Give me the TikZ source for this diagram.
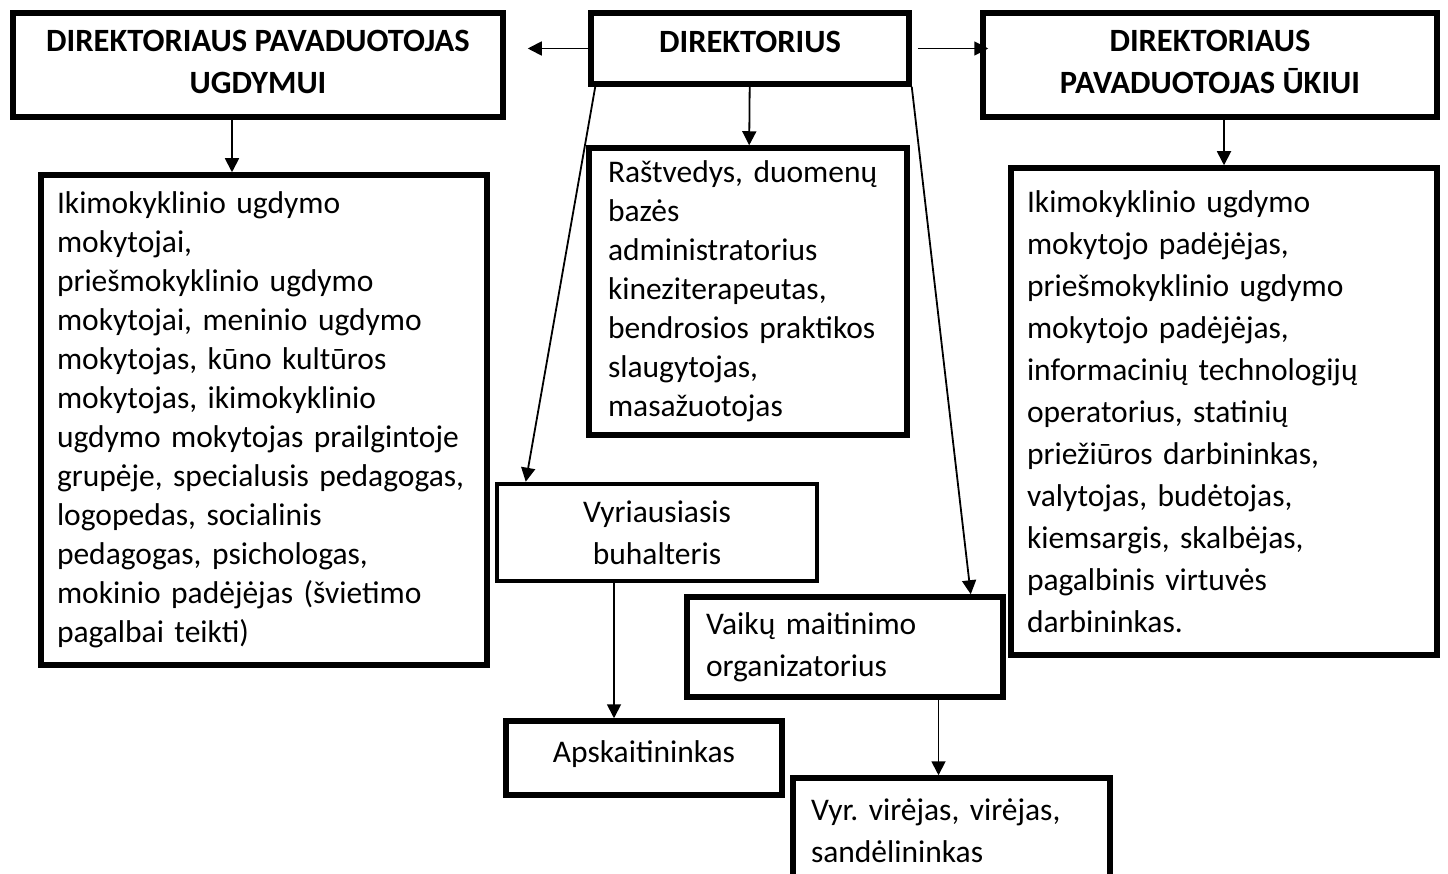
\documentclass[tikz,border=0pt]{standalone}
\usepackage{fontspec}
\setmainfont{Carlito}
\usetikzlibrary{arrows.meta}

\begin{document}
\begin{tikzpicture}[x=1pt,y=-1pt,
    box/.style={draw, line width=5.5pt, fill=white, font=\fontsize{31.5}{42}\selectfont\frenchspacing},
    head/.style={box, font=\fontsize{32.5}{42}\selectfont\bfseries, align=center},
    list/.style={box, align=left, inner xsep=16pt},
    tight/.style={font=\fontsize{31.5}{39}\selectfont},
    lnk/.style={-{Triangle[length=14pt,width=14pt]}, line width=1.8pt}]
  \useasboundingbox (0,0) rectangle (1448,874);

  % top row
  \node[head, minimum width=490pt, minimum height=104pt, text depth=6pt] (ugd) at (258,65)
    {DIREKTORIAUS PAVADUOTOJAS\\ UGDYMUI};
  \node[head, minimum width=318pt, minimum height=71pt, text depth=14pt] (dir) at (750,48.5)
    {DIREKTORIUS};
  \node[head, minimum width=454pt, minimum height=104pt, text depth=6pt] (uk) at (1210,65)
    {DIREKTORIAUS\\ PAVADUOTOJAS ŪKIUI};

  % staff boxes
  \node[list, tight, text width=414pt, minimum height=490pt] (lft) at (264,420)
    {Ikimokyklinio ugdymo\\ mokytojai,\\ priešmokyklinio ugdymo\\
     mokytojai, meninio ugdymo\\ mokytojas, kūno kultūros\\
     mokytojas, ikimokyklinio\\ ugdymo mokytojas prailgintoje\\
     grupėje, specialusis pedagogas,\\ logopedas, socialinis\\
     pedagogas, psichologas,\\ mokinio padėjėjas (švietimo\\ pagalbai teikti)};
  \node[list, tight, inner xsep=19pt, text width=280pt, minimum height=287pt] (mid) at (748,291.5)
    {Raštvedys, duomenų\\ bazės\\ administratorius\\ kineziterapeutas,\\
     bendrosios praktikos\\ slaugytojas,\\ masažuotojas};
  \node[list, text width=394pt, minimum height=487pt] (rgt) at (1224,411.5)
    {Ikimokyklinio ugdymo\\ mokytojo padėjėjas,\\ priešmokyklinio ugdymo\\
     mokytojo padėjėjas,\\ informacinių technologijų\\ operatorius, statinių\\
     priežiūros darbininkas,\\ valytojas, budėtojas,\\ kiemsargis, skalbėjas,\\
     pagalbinis virtuvės\\ darbininkas.};

  \node[box, align=center, line width=4.5pt, minimum width=320pt, minimum height=97pt] (buh) at (657,532.5)
    {Vyriausiasis\\ buhalteris};
  \node[list, inner xsep=19pt, text width=278pt, minimum height=100pt] (mait) at (845,647)
    {Vaikų maitinimo\\ organizatorius};
  \node[box, minimum width=276pt, minimum height=74pt, text depth=12pt] (apsk) at (644,758)
    {Apskaitininkas};
  \node[list, inner xsep=18pt, text width=281pt, minimum height=106pt] (vir) at (951.5,831)
    {Vyr. virėjas, virėjas,\\ sandėlininkas};

  % links
  \draw[lnk, shorten >=22pt] (dir.west) -- (dir.west -| ugd.east);
  \draw[lnk, shorten <=6pt, shorten >=-8pt] (dir.east) -- (dir.east -| uk.west);
  \draw[lnk] (dir) -- (mid);
  \draw[lnk] ([xshift=-26pt]ugd.south) -- ([xshift=-26pt]ugd.south |- lft.north);
  \draw[lnk] (uk.south -| rgt.north) -- (rgt.north);
  \draw[lnk] ([xshift=7pt]dir.south west) -- ([xshift=31pt]buh.north west);
  \draw[lnk] (dir.south east) -- ([xshift=-35pt]mait.north east);
  \draw[lnk] ([xshift=-43pt]buh.south) -- ([xshift=-43pt]buh.south |- apsk.north);
  \draw[lnk] ([xshift=-13pt]vir.north |- mait.south) -- ([xshift=-13pt]vir.north);
\end{tikzpicture}
\end{document}
